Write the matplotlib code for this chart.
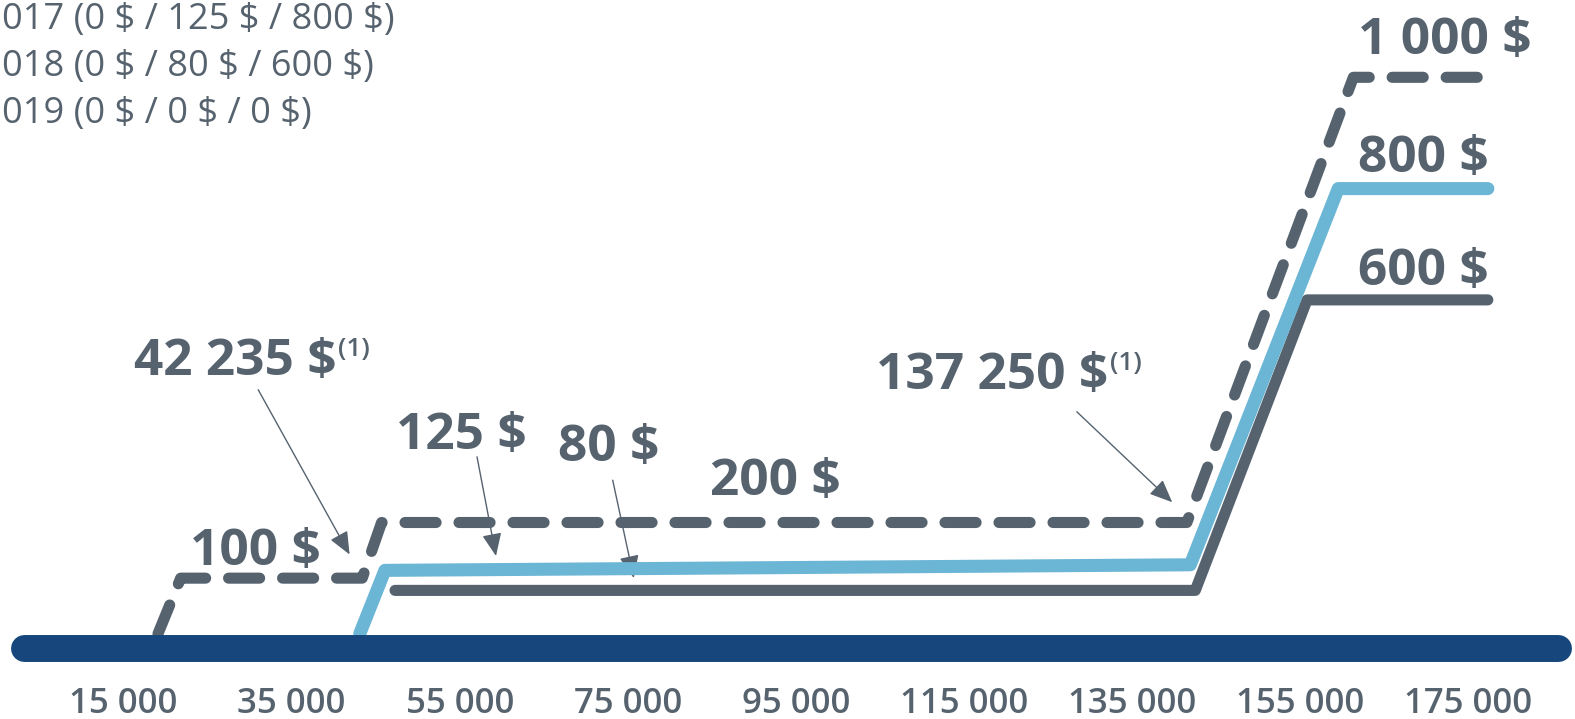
import matplotlib
matplotlib.use("Agg")
import matplotlib.pyplot as plt

# ---------------- data ----------------
tick_values = [15000, 35000, 55000, 75000, 95000, 115000, 135000, 155000, 175000]
tick_labels = ["15 000", "35 000", "55 000", "75 000", "95 000", "115 000", "135 000", "155 000", "175 000"]

# dashed series (100 $ / 200 $ / 1 000 $)
dashed_income = [19100, 21800, 43400, 45700, 141500, 161300, 177300]
dashed_credit = [0, 100, 100, 200, 200, 1000, 1000]

# light blue series (0 $ / 125 $ / 800 $)
blue_income = [43100, 46100, 141900, 159500, 177300]
blue_credit = [0, 114, 124, 800, 800]

# dark solid series (0 $ / 80 $ / 600 $)
dark_income = [47300, 142500, 155800, 177300]
dark_credit = [78, 78, 600, 600]

legend_lines = ["017 (0 $ / 125 $ / 800 $)", "018 (0 $ / 80 $ / 600 $)", "019 (0 $ / 0 $ / 0 $)"]

# ---------------- style ----------------
GREY = "#56636f"
BLUE = "#6bb5d5"
NAVY = "#16467b"
FONT = ["Open Sans", "DejaVu Sans"]

fig = plt.figure(figsize=(15.75, 7.19), dpi=100)
ax = fig.add_axes([0, 0, 1, 1])
ax.set_xlim(309, 187668)
ax.set_ylim(-153.1, 1138.9)
ax.axis("off")

# baseline bar
ax.plot([0.0152, 0.989], [-25.3, -25.3], transform=ax.get_yaxis_transform(),
        color=NAVY, lw=19.4, solid_capstyle="round", zorder=5)

ax.plot(dashed_income, dashed_credit, color=GREY, lw=8, dashes=(2.8, 2.06),
        dash_capstyle="round", solid_joinstyle="round", dash_joinstyle="round", zorder=3)
ax.plot(blue_income, blue_credit, color=BLUE, lw=9.4, solid_capstyle="round",
        solid_joinstyle="round", zorder=4)
ax.plot(dark_income, dark_credit, color=GREY, lw=8, solid_capstyle="round",
        solid_joinstyle="round", zorder=3)

# x tick labels
for v, lab in zip(tick_values, tick_labels):
    ax.text(v, 1 - 704 / 719, lab, transform=ax.get_xaxis_transform(), ha="center", va="center",
            fontsize=25, color=GREY, family=FONT, fontweight="semibold")

# legend text top-left
for i, s in enumerate(legend_lines):
    ax.text(0.001, 1 - (20 + 47.2 * i) / 719, s, transform=ax.transAxes, ha="left", va="center",
            fontsize=26, color=GREY, family=FONT)

big = dict(fontsize=37, color=GREY, family=FONT, fontweight="bold")
sup = dict(fontsize=19, color=GREY, family=FONT, fontweight="semibold")
arrow = dict(arrowstyle="-|>,head_length=0.7,head_width=0.3", color=GREY, lw=1.0,
             mutation_scale=20, shrinkA=0, shrinkB=0)

# right-side level labels
ax.text(161870, 1066, "1 000 $", ha="left", va="center", **big)
ax.text(161870, 854, "800 $", ha="left", va="center", **big)
ax.text(161870, 650, "600 $", ha="left", va="center", **big)

# step labels
ax.text(30643, 147, "100 $", ha="center", va="center", **big)
ax.text(92562, 272, "200 $", ha="center", va="center", **big)
ax.text(55148, 355, "125 $", ha="center", va="center", **big)
ax.text(72660, 333, "80 $", ha="center", va="center", **big)

t1 = ax.text(16249, 488, "42 235 $", ha="left", va="center", **big)
ax.annotate("(1)", xy=(1, 1), xycoords=t1, xytext=(1, 0), textcoords="offset points",
            ha="left", va="top", **sup)
t2 = ax.text(104515, 463, "137 250 $", ha="left", va="center", **big)
ax.annotate("(1)", xy=(1, 1), xycoords=t2, xytext=(1, 0), textcoords="offset points",
            ha="left", va="top", **sup)

# arrows
ax.annotate("", xy=(41896, 142.5), xytext=(31023, 438.6), arrowprops=arrow)
ax.annotate("", xy=(59313, 139.8), xytext=(57053, 318), arrowprops=arrow)
ax.annotate("", xy=(75705, 100), xytext=(73195, 276), arrowprops=arrow)
ax.annotate("", xy=(139750, 236.5), xytext=(128405, 399), arrowprops=arrow)

fig.savefig("out.png", dpi=100)
